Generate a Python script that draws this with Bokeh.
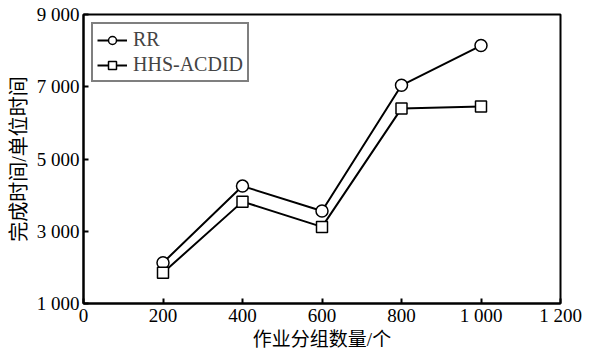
from bokeh.plotting import figure
from bokeh.models import FixedTicker, Legend, LegendItem
from bokeh.embed import file_html
from bokeh.resources import INLINE

group_counts = [200, 400, 600, 800, 1000]
rr_times = [2130, 4250, 3560, 7040, 8140]
hhs_times = [1850, 3820, 3120, 6400, 6450]
x_ticks = [0, 200, 400, 600, 800, 1000, 1200]
x_tick_labels = ["0", "200", "400", "600", "800", "1 000", "1 200"]
y_ticks = [1000, 3000, 5000, 7000, 9000]
y_tick_labels = ["1 000", "3 000", "5 000", "7 000", "9 000"]
series_names = ["RR", "HHS-ACDID"]
x_label = "作业分组数量/个"
y_label = "完成时间/单位时间"

SERIF = "'Liberation Serif', 'Noto Sans CJK SC', serif"
CJK = "'Liberation Serif', 'Noto Sans CJK SC', serif"

p = figure(width=591, height=352, output_backend="svg", toolbar_location=None,
           x_range=(0, 1200), y_range=(1000, 9000),
           min_border_left=83, min_border_right=31, min_border_top=14, min_border_bottom=47)

p.xgrid.visible = False
p.ygrid.visible = False
p.outline_line_color = "black"
p.outline_line_width = 2
p.background_fill_color = "white"
p.border_fill_color = "white"

for ax, ticks, labels in ((p.xaxis[0], x_ticks, x_tick_labels), (p.yaxis[0], y_ticks, y_tick_labels)):
    ax.ticker = FixedTicker(ticks=ticks)
    ax.major_label_overrides = {t: l for t, l in zip(ticks, labels)}
    ax.minor_tick_line_color = None
    ax.major_tick_in = 5
    ax.major_tick_out = 0
    ax.major_tick_line_color = "black"
    ax.major_tick_line_width = 2
    ax.axis_line_color = "black"
    ax.axis_line_width = 2
    ax.major_label_text_font = SERIF
    ax.major_label_text_font_size = "19px"
    ax.major_label_text_color = "black"
    ax.axis_label_text_font = CJK
    ax.axis_label_text_font_size = "19px"
    ax.axis_label_text_font_style = "normal"
    ax.axis_label_text_color = "black"

p.xaxis.axis_label = x_label
p.yaxis.axis_label = y_label
p.xaxis.major_label_standoff = 1
p.xaxis.axis_label_standoff = 0
p.yaxis.major_label_standoff = 4
p.yaxis.axis_label_standoff = 4
p.yaxis.axis_label_text_font_size = "20px"

l1 = p.line(group_counts, rr_times, line_color="black", line_width=2)
m1 = p.scatter(group_counts, rr_times, marker="circle", size=12, fill_color="white",
               line_color="black", line_width=1.5)
l2 = p.line(group_counts, hhs_times, line_color="black", line_width=2)
m2 = p.scatter(group_counts, hhs_times, marker="square", size=11, fill_color="white",
               line_color="black", line_width=1.5)

legend = Legend(items=[LegendItem(label=series_names[0], renderers=[l1, m1]),
                       LegendItem(label=series_names[1], renderers=[l2, m2])],
                location="top_left", margin=8)
legend.label_text_font = SERIF
legend.label_text_font_size = "20px"
legend.label_height = 20
legend.glyph_height = 20
legend.glyph_width = 30
legend.spacing = 2
legend.padding = 4
legend.border_line_color = "black"
legend.border_line_width = 2
legend.label_standoff = 6
p.add_layout(legend)

open("out.html", "w").write(file_html(p, INLINE))
